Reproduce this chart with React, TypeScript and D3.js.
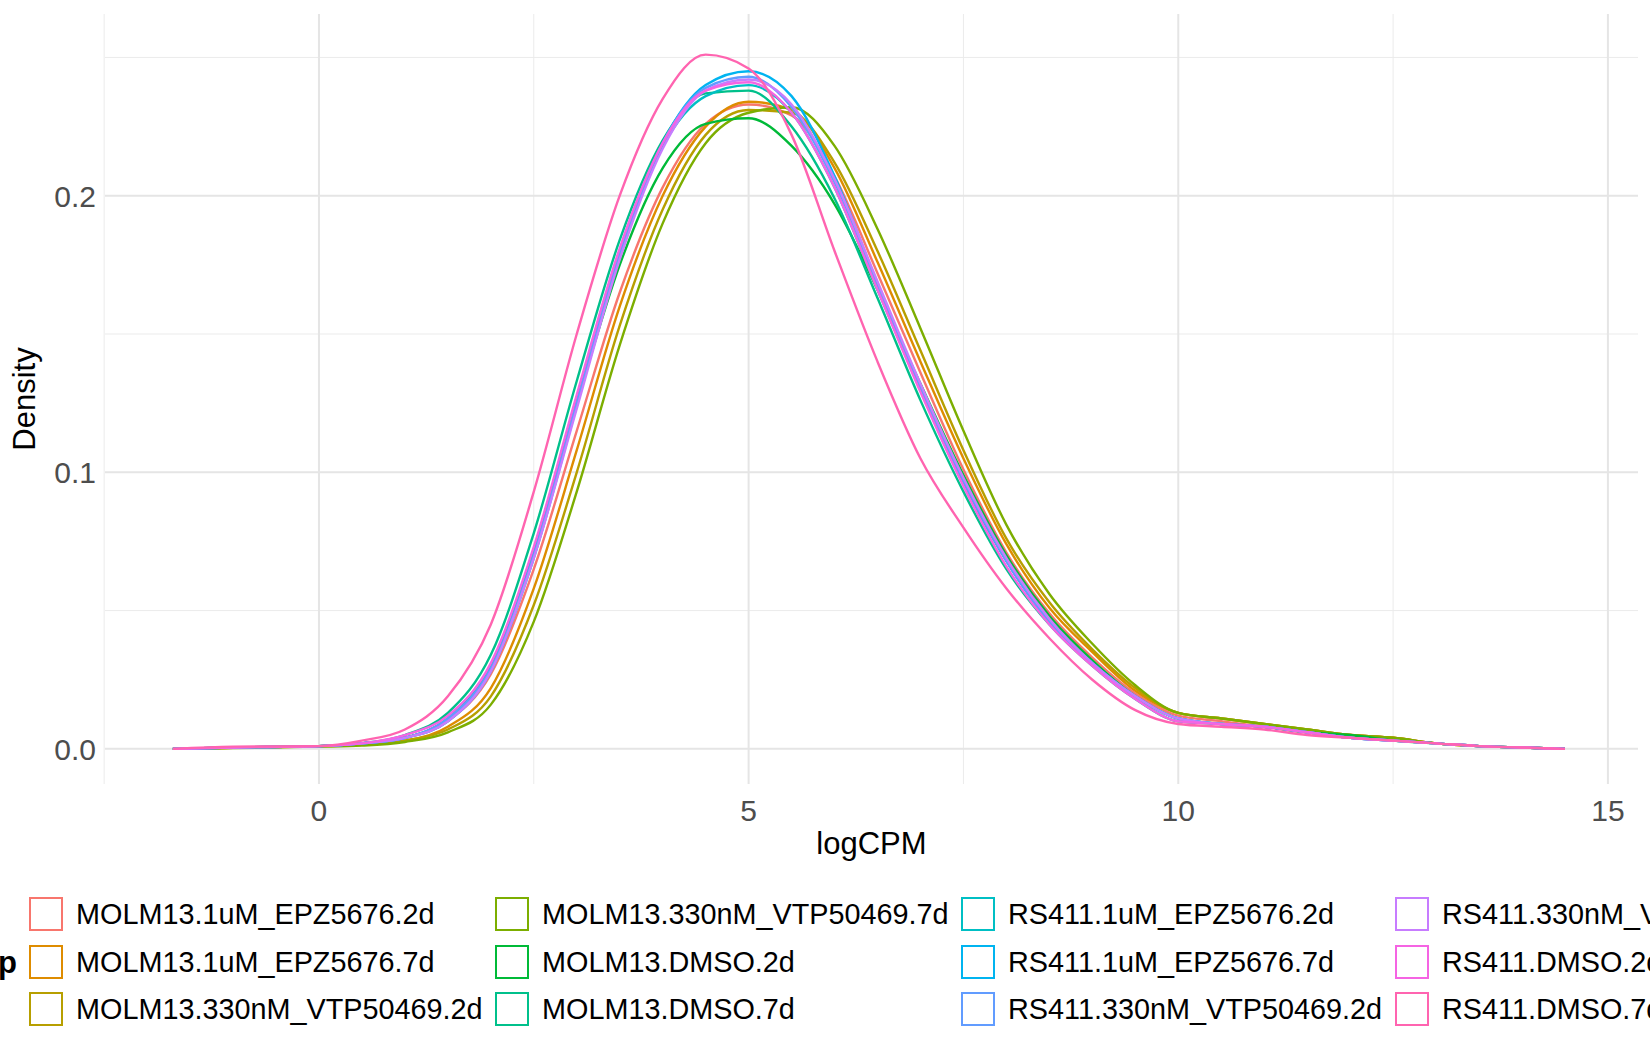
import * as d3 from "d3";

const groups = [
  "MOLM13.1uM_EPZ5676.2d", "MOLM13.1uM_EPZ5676.7d", "MOLM13.330nM_VTP50469.2d",
  "MOLM13.330nM_VTP50469.7d", "MOLM13.DMSO.2d", "MOLM13.DMSO.7d",
  "RS411.1uM_EPZ5676.2d", "RS411.1uM_EPZ5676.7d", "RS411.330nM_VTP50469.2d",
  "RS411.330nM_VTP50469.7d", "RS411.DMSO.2d", "RS411.DMSO.7d",
];
const colors = ["#F8766D", "#DE8C00", "#B79F00", "#7CAE00", "#00BA38", "#00C08B",
  "#00BFC4", "#00B4F0", "#619CFF", "#C77CFF", "#F564E3", "#FF64B0"];

const logCPM = [-1.7, -1, 0, 0.5, 1, 1.5, 2, 2.5, 3, 3.5, 4, 4.5, 5, 5.5, 6, 6.5, 7, 7.5, 8, 8.5, 9, 9.5, 10, 10.5, 11, 11.5, 12, 12.5, 13, 13.5, 14, 14.5];

const density: number[][] = [
  [0, 0.0005, 0.001, 0.002, 0.004, 0.010, 0.027, 0.065, 0.115, 0.165, 0.203, 0.226, 0.233, 0.229, 0.207, 0.172, 0.136, 0.101, 0.071, 0.049, 0.033, 0.020, 0.012, 0.010, 0.008, 0.006, 0.005, 0.004, 0.002, 0.001, 0.0005, 0],
  [0, 0.0004, 0.001, 0.002, 0.003, 0.008, 0.022, 0.058, 0.108, 0.160, 0.200, 0.225, 0.234, 0.231, 0.210, 0.176, 0.140, 0.105, 0.074, 0.051, 0.035, 0.021, 0.013, 0.011, 0.009, 0.007, 0.005, 0.004, 0.002, 0.001, 0.0005, 0],
  [0, 0.0004, 0.001, 0.0015, 0.003, 0.007, 0.019, 0.052, 0.100, 0.153, 0.195, 0.222, 0.231, 0.230, 0.212, 0.180, 0.144, 0.108, 0.076, 0.053, 0.036, 0.022, 0.013, 0.011, 0.009, 0.007, 0.005, 0.004, 0.002, 0.001, 0.0005, 0],
  [0, 0.0003, 0.0008, 0.0012, 0.0025, 0.006, 0.016, 0.046, 0.093, 0.146, 0.190, 0.219, 0.230, 0.232, 0.218, 0.188, 0.152, 0.115, 0.081, 0.056, 0.038, 0.023, 0.013, 0.011, 0.009, 0.007, 0.005, 0.004, 0.002, 0.001, 0.0005, 0],
  [0, 0.0005, 0.001, 0.002, 0.004, 0.011, 0.030, 0.072, 0.125, 0.175, 0.210, 0.226, 0.228, 0.218, 0.197, 0.166, 0.132, 0.099, 0.070, 0.048, 0.032, 0.019, 0.011, 0.009, 0.008, 0.006, 0.005, 0.003, 0.002, 0.001, 0.0005, 0],
  [0, 0.0005, 0.001, 0.002, 0.005, 0.013, 0.034, 0.078, 0.133, 0.184, 0.220, 0.237, 0.238, 0.225, 0.199, 0.163, 0.126, 0.093, 0.065, 0.045, 0.030, 0.018, 0.010, 0.009, 0.008, 0.006, 0.004, 0.003, 0.002, 0.001, 0.0005, 0],
  [0, 0.0005, 0.001, 0.002, 0.004, 0.011, 0.030, 0.072, 0.127, 0.180, 0.218, 0.236, 0.240, 0.230, 0.203, 0.166, 0.130, 0.096, 0.068, 0.046, 0.031, 0.019, 0.011, 0.009, 0.008, 0.006, 0.004, 0.003, 0.002, 0.001, 0.0005, 0],
  [0, 0.0005, 0.001, 0.002, 0.004, 0.010, 0.028, 0.069, 0.124, 0.178, 0.219, 0.240, 0.245, 0.236, 0.207, 0.168, 0.131, 0.097, 0.068, 0.046, 0.031, 0.019, 0.011, 0.009, 0.008, 0.006, 0.004, 0.003, 0.002, 0.001, 0.0005, 0],
  [0, 0.0005, 0.001, 0.002, 0.004, 0.011, 0.029, 0.070, 0.125, 0.179, 0.219, 0.239, 0.243, 0.232, 0.205, 0.168, 0.131, 0.097, 0.068, 0.046, 0.031, 0.019, 0.011, 0.009, 0.008, 0.006, 0.004, 0.003, 0.002, 0.001, 0.0005, 0],
  [0, 0.0005, 0.001, 0.002, 0.004, 0.010, 0.028, 0.069, 0.123, 0.177, 0.217, 0.238, 0.242, 0.233, 0.206, 0.169, 0.132, 0.098, 0.069, 0.047, 0.031, 0.019, 0.011, 0.009, 0.008, 0.006, 0.004, 0.003, 0.002, 0.001, 0.0005, 0],
  [0, 0.0005, 0.001, 0.002, 0.005, 0.012, 0.031, 0.073, 0.128, 0.181, 0.219, 0.238, 0.241, 0.230, 0.203, 0.166, 0.129, 0.095, 0.066, 0.045, 0.030, 0.018, 0.010, 0.009, 0.008, 0.006, 0.004, 0.003, 0.002, 0.001, 0.0005, 0],
  [0, 0.0008, 0.001, 0.003, 0.007, 0.019, 0.045, 0.093, 0.150, 0.200, 0.235, 0.251, 0.246, 0.222, 0.180, 0.140, 0.105, 0.080, 0.058, 0.040, 0.025, 0.014, 0.009, 0.008, 0.007, 0.005, 0.004, 0.003, 0.002, 0.001, 0.0005, 0],
];

const xTicks = [0, 5, 10, 15];
const yTicks = [0, 0.1, 0.2];

const W = 1650, H = 1050;
const left = 105, right = 1638, top = 14, bottom = 784;

export default function App() {
  const x = d3.scaleLinear().domain([-2.49, 15.35]).range([left, right]);
  const y = d3.scaleLinear().domain([-0.0127, 0.2657]).range([bottom, top]);
  const line = d3.line<number>()
    .x((_, i) => x(logCPM[i]))
    .y((d) => y(d))
    .curve(d3.curveMonotoneX);
  const xMinor = [-2.5, 2.5, 7.5, 12.5];
  const yMinor = [0.05, 0.15, 0.25];
  const font = "Liberation Sans, Arial, sans-serif";
  return (
    <svg width={W} height={H} style={{ position: "absolute", left: 0, top: 0, background: "#fff" }} fontFamily={font}>
      {xMinor.map((t) => <line key={"xm" + t} x1={x(t)} x2={x(t)} y1={top} y2={bottom} stroke="#ebebeb" strokeWidth={1} />)}
      {yMinor.map((t) => <line key={"ym" + t} x1={left} x2={right} y1={y(t)} y2={y(t)} stroke="#ebebeb" strokeWidth={1} />)}
      {xTicks.map((t) => <line key={"x" + t} x1={x(t)} x2={x(t)} y1={top} y2={bottom} stroke="#e5e5e5" strokeWidth={2} />)}
      {yTicks.map((t) => <line key={"y" + t} x1={left} x2={right} y1={y(t)} y2={y(t)} stroke="#e5e5e5" strokeWidth={2} />)}
      {density.map((s, i) => (
        <path key={groups[i]} d={line(s) || ""} fill="none" stroke={colors[i]} strokeWidth={2.4} />
      ))}
      {xTicks.map((t) => (
        <text key={"xt" + t} x={x(t)} y={821} textAnchor="middle" fontSize={30} fill="#4d4d4d">{t}</text>
      ))}
      {yTicks.map((t) => (
        <text key={"yt" + t} x={96} y={y(t) + 11} textAnchor="end" fontSize={30} fill="#4d4d4d">{t.toFixed(1)}</text>
      ))}
      <text x={(left + right) / 2} y={854} textAnchor="middle" fontSize={31}>logCPM</text>
      <text transform={`translate(35,${(top + bottom) / 2}) rotate(-90)`} textAnchor="middle" fontSize={31}>Density</text>
      <text x={17} y={973} textAnchor="end" fontSize={31} fontWeight="bold">group</text>
      {groups.map((g, i) => {
        const col = Math.floor(i / 3), row = i % 3;
        const bx = [29, 495, 961, 1395][col];
        const cy = [914, 962, 1009][row];
        return (
          <g key={"lg" + g}>
            <rect x={bx + 1} y={cy - 16} width={32} height={32} fill="#fff" stroke={colors[i]} strokeWidth={2} />
            <text x={bx + 47} y={cy + 10} fontSize={28.8}>{g}</text>
          </g>
        );
      })}
    </svg>
  );
}
